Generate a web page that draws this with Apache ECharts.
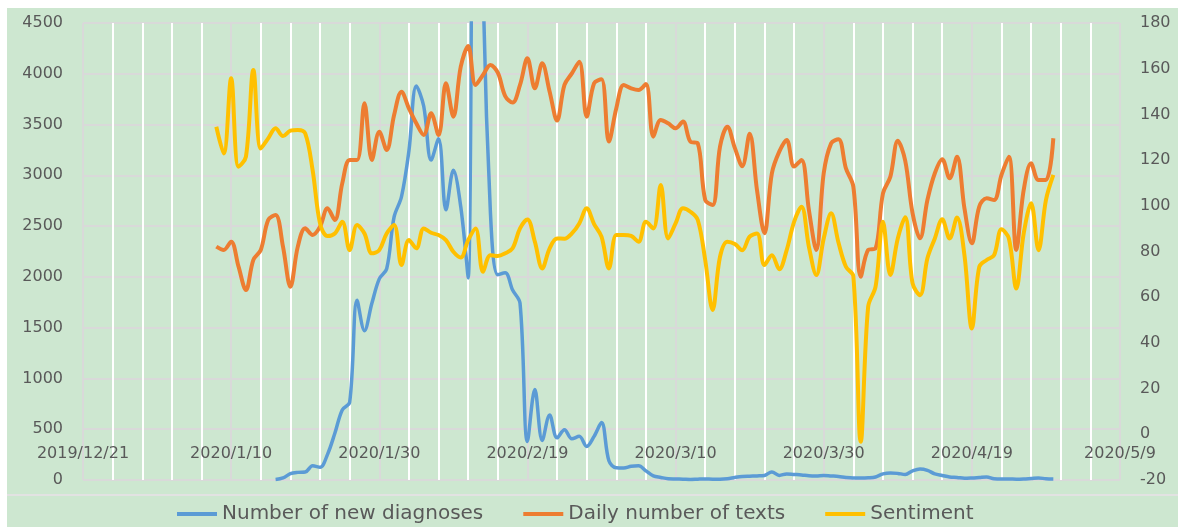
<!DOCTYPE html>
<html><head><meta charset="utf-8">
<script src="https://cdn.jsdelivr.net/npm/echarts@6/dist/echarts.min.js"></script>
<style>
html,body{margin:0;padding:0;background:#fff;}
#chart{position:absolute;left:7px;top:8px;width:1171px;height:519px;background:#cde7d0;}
</style></head><body><div id="chart"></div>
<script>
const startDate = '2019/12/21';
const endDate = '2020/5/9';
const xTickLabels = ['2019/12/21','2020/1/10','2020/1/30','2020/2/19','2020/3/10','2020/3/30','2020/4/19','2020/5/9'];
const leftTicks = [0,500,1000,1500,2000,2500,3000,3500,4000,4500];
const rightTicks = [-20,0,20,40,60,80,100,120,140,160,180];
const seriesNames = ['Number of new diagnoses','Daily number of texts','Sentiment'];

const diagnosesStart = '2020/1/16';
const diagnoses = [5,20,62,75,78,140,125,250,460,690,765,1770,1470,1740,1980,2080,2590,2790,3240,3880,3680,3150,3360,2660,3050,2690,1990,14800,5090,2640,2020,2040,1870,1740,380,890,390,640,415,495,405,430,330,430,565,190,120,118,135,140,90,40,25,12,10,8,5,8,10,8,8,12,25,35,38,40,45,80,45,60,55,50,42,40,45,40,35,25,20,20,22,30,60,70,65,55,90,108,95,60,45,30,25,17,20,25,30,12,10,10,8,10,15,20,12,10];

const textsStart = '2020/1/8';
const texts = [2298,2265,2347,2101,1871,2167,2265,2560,2610,2298,1904,2298,2478,2413,2495,2675,2560,2921,3151,3151,3709,3151,3430,3250,3594,3824,3660,3512,3397,3611,3397,3906,3578,4070,4274,3890,3988,4087,4011,3781,3716,3890,4152,3857,4103,3824,3540,3890,4004,4119,3578,3906,3945,3332,3660,3890,3857,3840,3900,3381,3545,3512,3463,3529,3332,3315,2757,2708,3282,3479,3270,3090,3410,2850,2430,3020,3233,3348,3086,3151,2659,2265,3020,3315,3355,3069,2889,2002,2265,2281,2823,2987,3341,3145,2626,2380,2757,3020,3158,2971,3184,2675,2331,2692,2774,2757,3004,3184,2265,2856,3118,2954,2954,3365];

const sentimentStart = '2020/1/8';
const sentiment = [134.6,122.9,155.8,117.1,121.5,159.4,125.1,129.5,133.9,130.5,132.9,133.2,131.7,115.6,92.3,86.8,87.9,93.0,80.6,91.6,87.9,79.2,80.6,87.9,91.6,74.1,85.0,81.4,90.1,88.2,87.2,85.0,79.9,77.4,85.0,90.1,71.1,78.4,78.0,79.2,81.4,90.1,94.0,84.3,72.6,81.4,85.7,85.6,87.9,92.3,98.9,92.0,86.5,72.6,87.2,87.2,86.8,84.3,93.0,90.1,109.1,85.7,92.3,98.9,97.4,93.8,76.3,54.4,77.7,84.3,83.3,80.6,86.5,87.9,74.1,78.4,72.2,80.6,93.0,99.6,82.1,69.7,85.7,96.7,83.8,73.3,69.2,-3.3,55.8,64.6,93.0,69.7,85.7,95.0,66.0,60.9,77.0,85.7,94.1,85.7,94.9,78.4,46.3,73.3,76.3,78.4,89.7,85.7,63.8,87.9,101.1,80.6,102.5,113.5];

function parseD(s){const [y,m,d]=s.split('/').map(Number);return Date.UTC(y,m-1,d);}
function buildDays(a,b){const out=[];for(let t=parseD(a);t<=parseD(b);t+=86400000){const dt=new Date(t);out.push(dt.getUTCFullYear()+'/'+(dt.getUTCMonth()+1)+'/'+dt.getUTCDate());}return out;}
const categories = buildDays(startDate,endDate);
function place(start, vals){const off=categories.indexOf(start);return new Array(off).fill(null).concat(vals);}
const isMajor = (v)=>xTickLabels.includes(v);

const FONT = 'DejaVu Sans';
const LABEL = '#595959';
const GRID_GREY = '#d9d9d9';
const chart = echarts.init(document.getElementById('chart'), null, {renderer:'canvas'});
chart.setOption({
  animation:false,
  backgroundColor:'transparent',
  textStyle:{fontFamily:FONT},
  grid:{left:76,right:58,top:15,bottom:47},
  legend:{
    data:seriesNames, left:170, top:496, padding:0, icon:'rect', itemWidth:40, itemHeight:4, itemGap:40,
    textStyle:{fontFamily:FONT,fontSize:20,color:LABEL}
  },
  xAxis:[{
    type:'category', data:categories, boundaryGap:false,
    axisLine:{show:false,onZero:false}, axisTick:{show:false}, offset:-45,
    axisLabel:{
      interval:(i,v)=>isMajor(v), showMinLabel:true, showMaxLabel:true,
      color:LABEL, fontFamily:FONT, fontSize:16, margin:11
    },
    splitLine:{show:true, showMinLine:true, showMaxLine:true, interval:(i,v)=>i%4===0 && !isMajor(v),
      lineStyle:{color:'#ffffff', width:2}}
  },{
    type:'category', data:categories, boundaryGap:false, position:'bottom',
    axisLine:{show:false,onZero:false}, axisTick:{show:false}, axisLabel:{show:false},
    splitLine:{show:true, showMinLine:true, showMaxLine:true, interval:(i,v)=>isMajor(v),
      lineStyle:{color:GRID_GREY, width:2}}
  }],
  yAxis:[
    {type:'value', min:leftTicks[0], max:leftTicks[leftTicks.length-1], interval:leftTicks[1]-leftTicks[0],
     axisLine:{show:false}, axisTick:{show:false},
     axisLabel:{color:LABEL,fontFamily:FONT,fontSize:16,margin:20,formatter:(v)=>String(v)},
     splitLine:{show:true,lineStyle:{color:GRID_GREY,width:2}}},
    {type:'value', position:'right', min:rightTicks[0], max:rightTicks[rightTicks.length-1], interval:rightTicks[1]-rightTicks[0],
     axisLine:{show:false}, axisTick:{show:false},
     axisLabel:{color:LABEL,fontFamily:FONT,fontSize:16,margin:20,formatter:(v)=>String(v)},
     splitLine:{show:false}}
  ],
  graphic:[{type:'line', shape:{x1:0,y1:487,x2:1171,y2:487}, style:{stroke:'#e2e2e2',lineWidth:2}, silent:true}],
  series:[
    {name:seriesNames[0], type:'line', yAxisIndex:0, data:place(diagnosesStart,diagnoses), symbol:'none', smooth:0.35,
     color:'#5b9bd5', lineStyle:{width:3.5,color:'#5b9bd5'}},
    {name:seriesNames[1], type:'line', yAxisIndex:0, data:place(textsStart,texts), symbol:'none', smooth:0.35,
     color:'#ed7d31', lineStyle:{width:4,color:'#ed7d31'}},
    {name:seriesNames[2], type:'line', yAxisIndex:1, data:place(sentimentStart,sentiment), symbol:'none', smooth:0.35,
     color:'#ffc000', lineStyle:{width:4,color:'#ffc000'}}
  ]
});
</script></body></html>
